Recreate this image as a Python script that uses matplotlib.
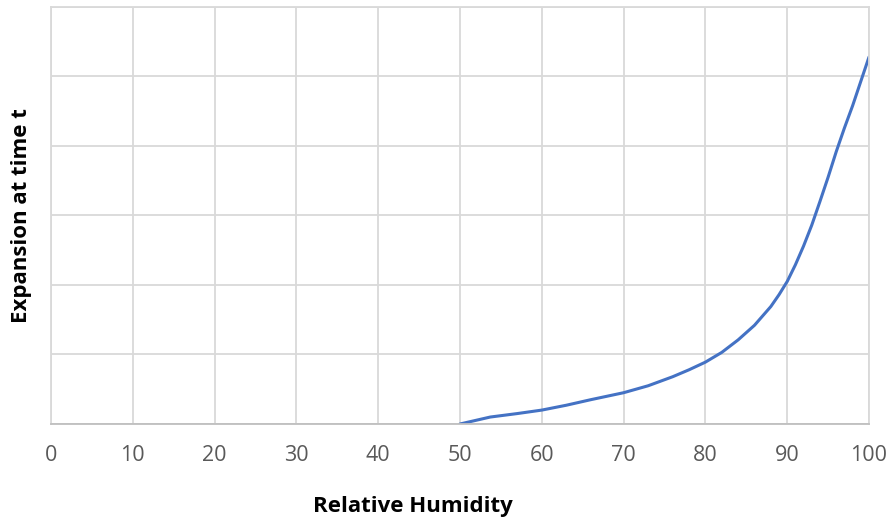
import matplotlib.pyplot as plt

# relative humidity (%) and expansion readings (arbitrary units)
humidity = [50, 53.7, 57, 60, 63, 66, 70, 73, 76, 78, 80, 82, 84, 86, 88, 89, 90, 91, 92, 93, 94, 95, 96, 97, 98, 99, 100]
expansion = [0.0, 0.10, 0.15, 0.20, 0.27, 0.35, 0.45, 0.55, 0.68, 0.78, 0.89, 1.03, 1.21, 1.42, 1.69, 1.86, 2.05, 2.29, 2.56, 2.86, 3.20, 3.55, 3.92, 4.26, 4.58, 4.93, 5.28]

x_ticks = [0, 10, 20, 30, 40, 50, 60, 70, 80, 90, 100]

plt.rcParams['font.family'] = ['Open Sans', 'DejaVu Sans']

fig = plt.figure(figsize=(8.92, 5.21), dpi=100)
ax = fig.add_axes([0.0572, 0.1862, 0.9170, 0.8004])

ax.plot(humidity, expansion, color='#4472C4', linewidth=2.2, solid_capstyle='round')

ax.set_xlim(0, 100)
ax.set_ylim(0, 6)
ax.set_xticks(x_ticks)
ax.set_yticks(range(0, 7))
ax.set_yticklabels([])
ax.tick_params(axis='both', length=0, colors='#595959', labelsize=15.5, pad=15)
ax.grid(True, color='#D9D9D9', linewidth=1.3)
ax.set_axisbelow(True)
for side in ['top', 'right', 'left']:
    ax.spines[side].set_color('#D9D9D9')
    ax.spines[side].set_linewidth(1.3)
ax.spines['bottom'].set_color('#BFBFBF')
ax.spines['bottom'].set_linewidth(1.3)

fig.text(0.4630, 0.028, 'Relative Humidity', fontsize=16, fontweight='bold',
         color='black', ha='center', va='center')
fig.text(0.024, 0.587, 'Expansion at time t', fontsize=16, fontweight='bold',
         color='black', ha='center', va='center', rotation=90)

fig.savefig('out.png', dpi=100)
